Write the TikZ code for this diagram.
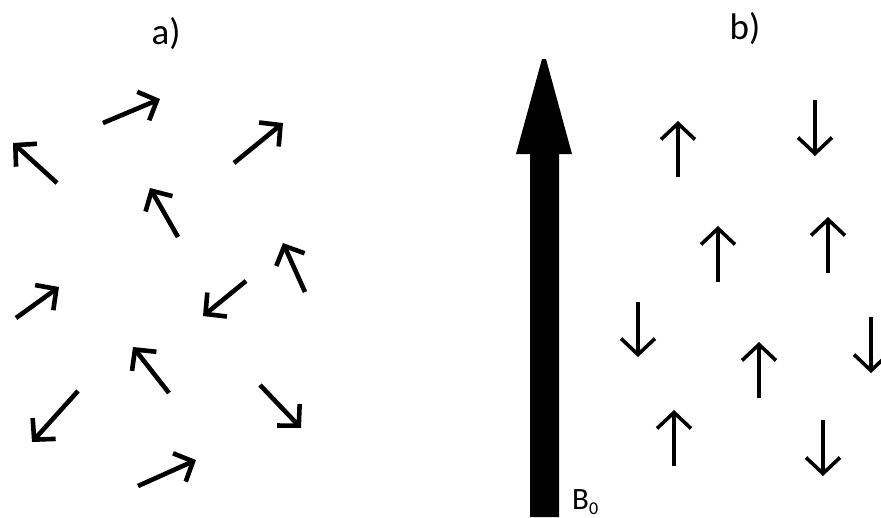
\documentclass[tikz,border=0pt]{standalone}
\usepackage{fontspec}
\setmainfont{Carlito}
\usetikzlibrary{arrows.meta}
\tikzset{
  spinA/.style={line width=4.6pt, -{Straight Barb[length=15pt, width=31pt, sharp]}},
  spinB/.style={line width=3.6pt, -{Straight Barb[length=16pt, width=34pt, sharp]}},
  lbl/.style={anchor=base, inner sep=0pt, font=\fontsize{37}{40}\selectfont},
}
\begin{document}
\begin{tikzpicture}[x=1pt,y=-1pt]
\useasboundingbox (0,0) rectangle (881,517);
\fill[white] (0,0) rectangle (881,517);
% labels
\node[lbl] (la) at (166,44) {a)};
\node[lbl] (lb) at (745,39) {b)};
% panel a: random spins
\coordinate (a1t) at (103,123); \coordinate (a1h) at (160,99);
\coordinate (a2t) at (57,183);  \coordinate (a2h) at (13,143);
\coordinate (a3t) at (234,163); \coordinate (a3h) at (283,123);
\coordinate (a4t) at (178,237); \coordinate (a4h) at (150,188);
\coordinate (a5t) at (305,292); \coordinate (a5h) at (283,243);
\coordinate (a6t) at (16,318);  \coordinate (a6h) at (59,287);
\coordinate (a7t) at (246,281); \coordinate (a7h) at (203,316);
\coordinate (a8t) at (169,393); \coordinate (a8h) at (133,347);
\coordinate (a9t) at (78,391);  \coordinate (a9h) at (32,442);
\coordinate (a10t) at (260,385); \coordinate (a10h) at (301,428);
\coordinate (a11t) at (138,486); \coordinate (a11h) at (196,460);
\foreach \i in {1,...,11} { \draw[spinA] (a\i t) -- (a\i h); }
% big field arrow
\fill[black] (530,517) -- (530,154) -- (516,154) -- (542,59) -- (546,59) -- (572,154) -- (559,154) -- (559,517) -- cycle;
\node[anchor=base west, inner sep=0pt, font=\fontsize{31}{33}\selectfont] (b0) at (572,509) {B\raisebox{-5pt}{\fontsize{18}{18}\selectfont 0}};
% panel b: aligned spins
\coordinate (b1t) at (678,177); \coordinate (b1h) at (678,121);
\coordinate (b2t) at (815,100); \coordinate (b2h) at (815,156);
\coordinate (b3t) at (718,282); \coordinate (b3h) at (718,226);
\coordinate (b4t) at (828,273); \coordinate (b4h) at (828,217);
\coordinate (b5t) at (638,302); \coordinate (b5h) at (638,357);
\coordinate (b6t) at (759,398); \coordinate (b6h) at (759,342);
\coordinate (b7t) at (871,317); \coordinate (b7h) at (871,373);
\coordinate (b8t) at (674,466); \coordinate (b8h) at (674,410);
\coordinate (b9t) at (823,420); \coordinate (b9h) at (823,476);
\foreach \i in {1,...,9} { \draw[spinB] (b\i t) -- (b\i h); }
\end{tikzpicture}
\end{document}
